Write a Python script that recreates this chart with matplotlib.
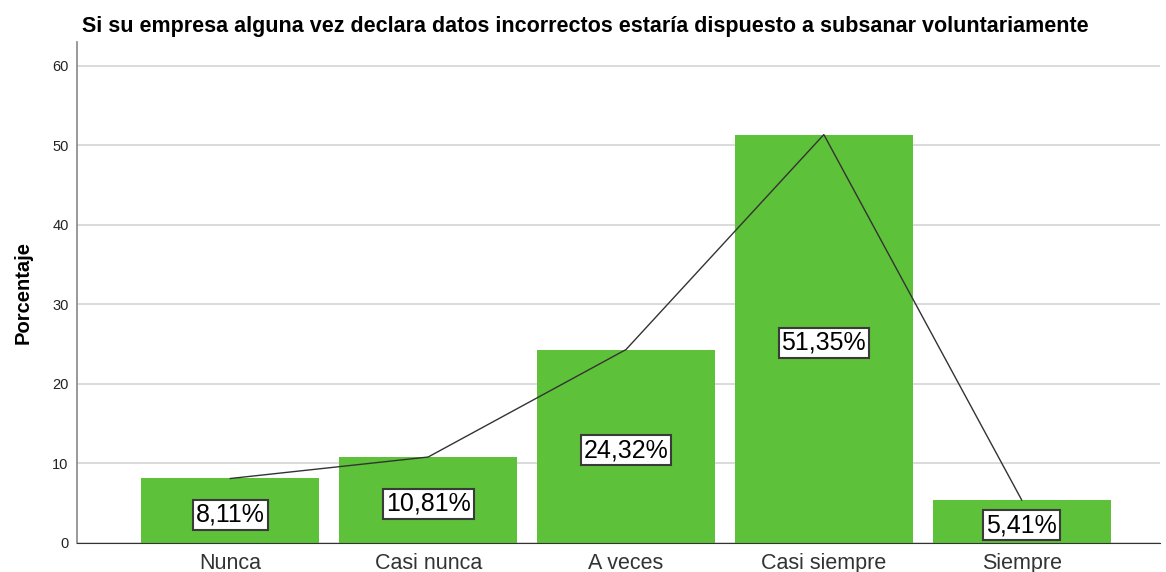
import matplotlib
matplotlib.use("Agg")
import matplotlib.pyplot as plt

# datos
categorias = ['Nunca', 'Casi nunca', 'A veces', 'Casi siempre', 'Siempre']
porcentajes = [8.11, 10.81, 24.32, 51.35, 5.41]
etiquetas = ['8,11%', '10,81%', '24,32%', '51,35%', '5,41%']
titulo = 'Si su empresa alguna vez declara datos incorrectos estaría dispuesto a subsanar voluntariamente'

plt.rcParams['font.family'] = ['Liberation Sans', 'DejaVu Sans']

fig = plt.figure(figsize=(11.66, 5.72), dpi=100)
ax = fig.add_axes([0.066, 0.0507, 0.929, 0.876])

x = list(range(len(categorias)))
ax.bar(x, porcentajes, width=0.9, color='#5dc139', zorder=2)
ax.plot(x, porcentajes, color='#333333', linewidth=1.0, zorder=3)

for xi, v, t in zip(x, porcentajes, etiquetas):
    ax.text(xi, v / 2 - 0.5, t, ha='center', va='center', fontsize=18, zorder=4,
            bbox=dict(boxstyle='square,pad=0.12', facecolor='white', edgecolor='#3a3a3a', linewidth=1.5))

ax.set_xlim(-0.775, 4.7)
ax.set_ylim(0, 63)
ax.set_yticks([0, 10, 20, 30, 40, 50, 60])
ax.yaxis.grid(True, color='#d4d4d4', linewidth=1.2, zorder=0)
ax.set_axisbelow(True)
ax.set_xticks(x)
ax.set_xticklabels(categorias, fontsize=15.5, color='#333333')
ax.tick_params(axis='x', length=0, pad=7)
ax.tick_params(axis='y', length=0, labelsize=10.5, pad=6, labelcolor='#222222')

for s in ['top', 'right']:
    ax.spines[s].set_visible(False)
ax.spines['left'].set_color('#888888')
ax.spines['left'].set_linewidth(1.2)
ax.spines['bottom'].set_color('#333333')

ax.set_ylabel('Porcentaje', fontsize=14.5, fontweight='bold', labelpad=14)
fig.text(0.502, 0.953, titulo, ha='center', va='center', fontsize=15.5, fontweight='bold')

fig.savefig('out.png', dpi=100)
